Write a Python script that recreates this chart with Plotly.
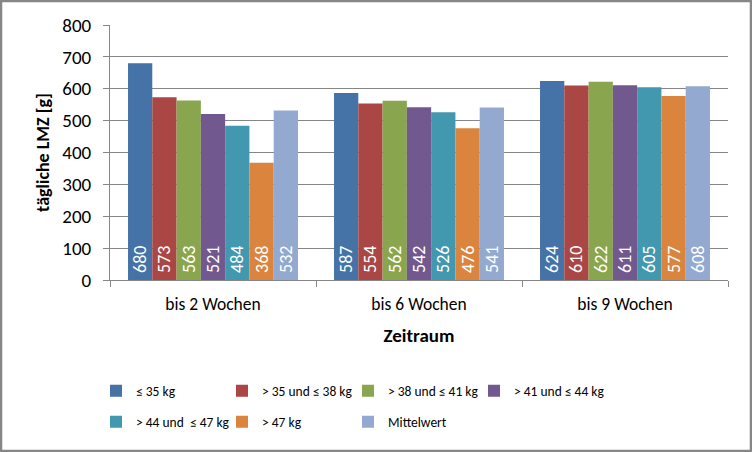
import plotly.graph_objects as go

categories = ["bis 2 Wochen", "bis 6 Wochen", "bis 9 Wochen"]
series_names = ["≤ 35 kg", "> 35 und ≤ 38 kg", "> 38 und ≤ 41 kg", "> 41 und ≤ 44 kg",
                "> 44 und  ≤ 47 kg", "> 47 kg", "Mittelwert"]
s1 = [680, 587, 624]
s2 = [573, 554, 610]
s3 = [563, 562, 622]
s4 = [521, 542, 611]
s5 = [484, 526, 605]
s6 = [368, 476, 577]
s7 = [532, 541, 608]
series_values = [s1, s2, s3, s4, s5, s6, s7]
colors = ["#4572A7", "#AA4643", "#89A54E", "#71588F", "#4198AF", "#DB843D", "#93A9CF"]
y_ticks = [0, 100, 200, 300, 400, 500, 600, 700, 800]

FONT = "Carlito, Lato, sans-serif"

W, H = 752, 452
L, R, T, B = 110, 24, 25, 172
pw, ph = W - L - R, H - T - B

fig = go.Figure()
for i, (name, vals, col) in enumerate(zip(series_names, series_values, colors)):
    fig.add_trace(go.Bar(
        x=categories, y=vals, name=name,
        marker=dict(color=col, line=dict(width=0)),
        text=[str(v) for v in vals],
        texttemplate="\u00a0%{text}",
        textposition="inside", insidetextanchor="start", textangle=-90,
        textfont=dict(color="white", size=18, family=FONT),
        constraintext="none",
        legend="legend" if i < 4 else "legend2",
    ))

# invisible spacer entry so the last legend column of row 1 is not clipped
fig.add_trace(go.Scatter(x=[None], y=[None], mode="markers", name=" ",
                         marker=dict(opacity=0, size=1, color="rgba(0,0,0,0)"),
                         legend="legend", hoverinfo="skip"))

leg_common = dict(
    orientation="h", x=(96 - L) / pw, xanchor="left", yanchor="middle",
    entrywidth=81, entrywidthmode="pixels", itemwidth=30,
    font=dict(size=13.5, family=FONT), traceorder="normal",
    bgcolor="rgba(0,0,0,0)",
)

fig.update_layout(
    width=W, height=H,
    margin=dict(l=L, r=R, t=T, b=B, autoexpand=False),
    paper_bgcolor="white", plot_bgcolor="white",
    barmode="group", bargap=0.175, bargroupgap=0,
    font=dict(family=FONT, color="black"),
    showlegend=True,
    legend=dict(leg_common, y=(T + ph - 391) / ph),
    legend2=dict(leg_common, y=(T + ph - 422) / ph),
    xaxis=dict(
        automargin=False,
        showline=True, linecolor="#868686", linewidth=1,
        ticks="outside", tickson="boundaries", ticklen=6, tickcolor="#868686",
        tickfont=dict(size=17.5, family=FONT), ticklabelstandoff=8,
        title=dict(text="<b>Zeitraum</b>", font=dict(size=19, family=FONT), standoff=14),
    ),
    yaxis=dict(
        automargin=False,
        range=[0, 800], tickvals=y_ticks, showgrid=True, gridcolor="#868686", gridwidth=1,
        showline=True, linecolor="#868686", linewidth=1,
        ticks="outside", ticklen=6, tickcolor="#868686",
        tickfont=dict(size=19, family=FONT), zeroline=False, ticklabelstandoff=8,
        title=dict(text="<b>tägliche LMZ [g]</b>", font=dict(size=18, family=FONT), standoff=8),
    ),
)

fig.add_shape(type="rect", xref="paper", yref="paper",
              x0=(1 - L) / pw, x1=(W - 1 - L) / pw,
              y0=(T + ph - (H - 1)) / ph, y1=(T + ph - 1) / ph,
              line=dict(color="#868686", width=2.5), fillcolor="rgba(0,0,0,0)", layer="above")

fig.write_html("out.html", config={"displayModeBar": False},
               post_script="document.body.style.margin='0';")
